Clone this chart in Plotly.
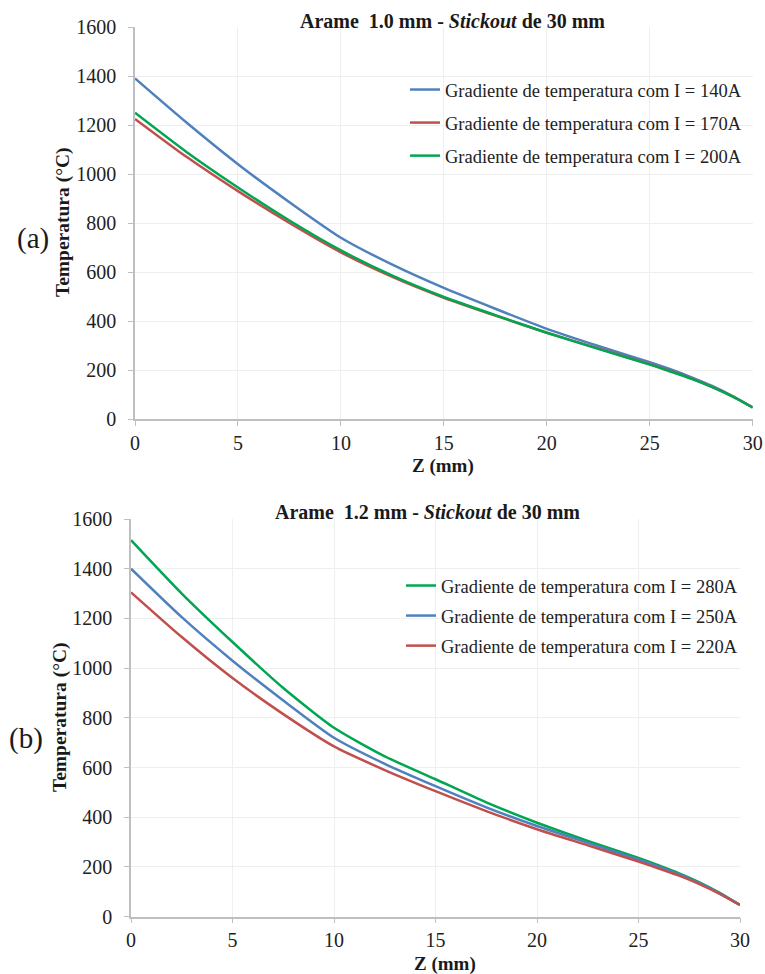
import plotly.graph_objects as go

# Axial position along the wire (mm)
z_mm = [0, 2.5, 5, 7.5, 10, 12.5, 15, 17.5, 20, 22.5, 25, 26, 27, 28, 29, 30]

# Wire 1.0 mm, stickout 30 mm
t_140a = [1390, 1210, 1040, 885, 740, 630, 535, 450, 368, 298, 232, 203, 171, 136, 95, 47]
t_170a = [1225, 1070, 930, 800, 680, 580, 495, 422, 352, 288, 224, 196, 166, 132, 93, 47]
t_200a = [1250, 1090, 945, 810, 688, 585, 498, 424, 352, 286, 222, 194, 165, 131, 92, 47]

# Wire 1.2 mm, stickout 30 mm
t_280a = [1515, 1300, 1105, 920, 760, 645, 553, 460, 378, 305, 236, 206, 174, 138, 96, 47]
t_250a = [1400, 1205, 1030, 870, 720, 615, 525, 440, 365, 297, 230, 201, 170, 135, 94, 47]
t_220a = [1305, 1125, 960, 815, 685, 590, 505, 425, 352, 287, 222, 194, 165, 131, 92, 47]

x_ticks = [0, 5, 10, 15, 20, 25, 30]
y_ticks = [0, 200, 400, 600, 800, 1000, 1200, 1400, 1600]

BLUE = "#4f81bd"
RED = "#c0504d"
GREEN = "#00a651"
SERIF = "Liberation Serif"
INK = "#1a1a1a"

W, H = 765, 974


def px_x(p):
    return p / W


def px_y(p):
    return 1 - p / H


fig = go.Figure()

top_series = [
    ("Gradiente de temperatura com I = 140A", t_140a, BLUE),
    ("Gradiente de temperatura com I = 170A", t_170a, RED),
    ("Gradiente de temperatura com I = 200A", t_200a, GREEN),
]
bottom_series = [
    ("Gradiente de temperatura com I = 280A", t_280a, GREEN),
    ("Gradiente de temperatura com I = 250A", t_250a, BLUE),
    ("Gradiente de temperatura com I = 220A", t_220a, RED),
]

for i, (name, vals, col) in enumerate(top_series):
    fig.add_trace(go.Scatter(
        x=z_mm, y=vals, name=name, mode="lines",
        line=dict(color=col, width=2.5, shape="spline", smoothing=0.6),
        xaxis="x", yaxis="y", legend="legend", legendgroup=f"a{i}",
    ))
for i, (name, vals, col) in enumerate(bottom_series):
    fig.add_trace(go.Scatter(
        x=z_mm, y=vals, name=name, mode="lines",
        line=dict(color=col, width=2.5, shape="spline", smoothing=0.6),
        xaxis="x2", yaxis="y2", legend="legend2", legendgroup=f"b{i}",
    ))

axis_common = dict(
    showline=True, linecolor="#bfbfbf", linewidth=1.5,
    ticks="outside", tickcolor="#bfbfbf", ticklen=5, tickwidth=1,
    showgrid=True, gridcolor="#efefef", gridwidth=1,
    zeroline=False, automargin=False,
    tickfont=dict(family=SERIF, size=20, color="#222222"),
)

xa = dict(axis_common, range=[0, 30], tickvals=x_ticks)
ya = dict(axis_common, range=[0, 1600], tickvals=y_ticks, ticklabelstandoff=8)

legend_style = dict(
    font=dict(family=SERIF, size=18.5, color="#222222"),
    bgcolor="rgba(0,0,0,0)", borderwidth=0,
    xanchor="left", yanchor="top",
    itemwidth=30, traceorder="grouped",
)


def label(text, x, y, size, angle=0):
    return dict(text=text, x=px_x(x), y=px_y(y), xref="paper", yref="paper",
                xanchor="center", yanchor="middle",
                showarrow=False, textangle=angle,
                font=dict(family=SERIF, size=size, color=INK))


fig.update_layout(
    width=W, height=H,
    margin=dict(l=0, r=0, t=0, b=0),
    paper_bgcolor="white", plot_bgcolor="white",
    font=dict(family=SERIF, color=INK),
    xaxis=dict(xa, domain=[px_x(135), px_x(752.7)], anchor="y"),
    yaxis=dict(ya, domain=[px_y(419), px_y(27)], anchor="x"),
    xaxis2=dict(xa, domain=[px_x(131), px_x(740)], anchor="y2"),
    yaxis2=dict(ya, domain=[px_y(916.7), px_y(519)], anchor="x2"),
    legend=dict(legend_style, x=px_x(405), y=px_y(71), tracegroupgap=6),
    legend2=dict(legend_style, x=px_x(401), y=px_y(567), tracegroupgap=3),
    annotations=[
        label("<b>Arame  1.0 mm - <i>Stickout</i> de 30 mm</b>", 452, 21, 20),
        label("<b>Arame  1.2 mm - <i>Stickout</i> de 30 mm</b>", 427, 512, 20),
        label("<b>Z (mm)</b>", 443, 466, 19),
        label("<b>Z (mm)</b>", 445, 964, 19),
        label("<b>Temperatura (°C)</b>", 63, 222, 19.5, -90),
        label("<b>Temperatura (°C)</b>", 60, 717, 19.5, -90),
        label("(a)", 33, 238, 29),
        label("(b)", 26, 738, 29),
    ],
)

fig.write_html("out.html")
